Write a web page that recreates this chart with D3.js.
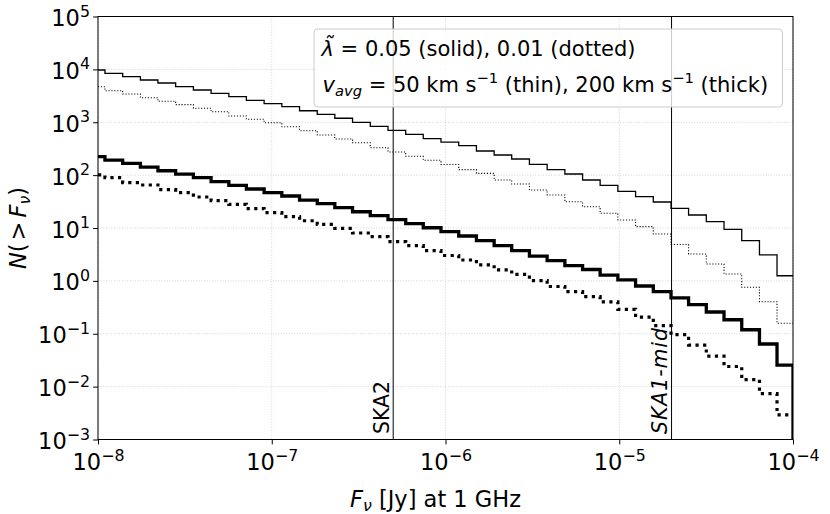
<!DOCTYPE html>
<html>
<head>
<meta charset="utf-8">
<script src="https://cdn.jsdelivr.net/npm/d3@7"></script>
<style>
  body { margin: 0; background: #fff; }
  svg { display: block; font-family: "DejaVu Sans", sans-serif; }
</style>
</head>
<body>
<div id="container"></div>
<script>
// log10 of the flux (Jy) where every step of the counts happens
let stepEdges = [
  -7.960, -7.858, -7.756, -7.655, -7.553, -7.451, -7.349, -7.247, -7.146, -7.044,
  -6.942, -6.840, -6.738, -6.637, -6.535, -6.433, -6.331, -6.229, -6.128, -6.026,
  -5.924, -5.822, -5.720, -5.619, -5.517, -5.415, -5.313, -5.211, -5.110, -5.008,
  -4.906, -4.804, -4.702, -4.601, -4.499, -4.397, -4.295, -4.193, -4.092
];

// N(>F) on each step, 40 levels per curve
// lambda = 0.05, v = 50 km/s
let thinSolid = [
  9730, 8430, 7270, 6300, 5530, 4700, 4070, 3530, 3040, 2600,
  2260, 1970, 1650, 1410, 1190, 998, 838, 704, 592, 489,
  420, 360, 286, 240, 202, 160, 127, 105, 80.9, 64.2,
  49.4, 39.1, 31.0, 23.6, 17.6, 13.2, 9.45, 5.75, 3.09, 1.25
];
// lambda = 0.01, v = 50 km/s
let thinDotted = [
  4700, 3950, 3420, 2910, 2490, 2150, 1835, 1583, 1313, 1137,
  980, 824, 692, 574, 482, 410, 330, 274, 227, 191,
  159, 127, 108, 80.9, 68.0, 52.3, 42.1, 31.4, 25.3, 19.0,
  14.2, 10.6, 7.70, 4.87, 3.22, 2.08, 1.35, 0.756, 0.404, 0.158
];
// lambda = 0.05, v = 200 km/s
let thickSolid = [
  223, 193, 167, 142, 121, 104, 89.4, 75.1, 64.2, 54.7,
  46.5, 40.3, 33.8, 28.8, 24.2, 20.3, 17.1, 14.4, 12.1, 10.1,
  8.51, 7.06, 5.75, 4.63, 3.72, 2.95, 2.41, 1.94, 1.64, 1.29,
  1.04, 0.80, 0.624, 0.478, 0.357, 0.258, 0.184, 0.119, 0.064, 0.0256
];
// lambda = 0.01, v = 200 km/s
let thickDotted = [
  101, 89.4, 71.9, 65.1, 53.0, 46.5, 38.6, 32.8, 28.1, 23.2,
  19.5, 16.4, 13.7, 11.7, 9.87, 8.04, 6.85, 5.51, 4.63, 3.72,
  3.02, 2.48, 2.00, 1.61, 1.33, 1.01, 0.783, 0.624, 0.502, 0.399,
  0.290, 0.207, 0.143, 0.0960, 0.0612, 0.0379, 0.0240, 0.0136, 0.00735, 0.00291
];

let xTickExps = [-8, -7, -6, -5, -4];
let yTickExps = [-3, -2, -1, 0, 1, 2, 3, 4, 5];

// survey sensitivities (Jy)
let surveyNames = ["SKA2", "SKA1-mid"];
let surveyFlux = [5e-7, 2e-5];

let w = 830;
let h = 514;
let pLeft = 98, pRight = 793, pTop = 16.5, pBottom = 439.5;

let x = d3.scaleLog().domain([1e-8, 1e-4]).range([pLeft, pRight]);
let y = d3.scaleLog().domain([1e-3, 1e5]).range([pBottom, pTop]);

let viz = d3.select("#container")
  .append("svg")
    .attr("width", w)
    .attr("height", h)
;

viz.append("clipPath").attr("id", "plotclip")
  .append("rect")
    .attr("x", pLeft).attr("y", pTop)
    .attr("width", pRight - pLeft).attr("height", pBottom - pTop);

// grid
let grid = viz.append("g")
  .attr("stroke", "#c8c8c8")
  .attr("stroke-width", 0.8)
  .attr("stroke-dasharray", "1,1.65");
grid.selectAll(".gx").data(xTickExps).enter().append("line")
  .attr("x1", d => x(Math.pow(10, d))).attr("x2", d => x(Math.pow(10, d)))
  .attr("y1", pTop).attr("y2", pBottom);
grid.selectAll(".gy").data(yTickExps).enter().append("line")
  .attr("y1", d => y(Math.pow(10, d))).attr("y2", d => y(Math.pow(10, d)))
  .attr("x1", pLeft).attr("x2", pRight);

// step curves
function stepPoints(vals, dropToBottom) {
  let pts = [{f: 1e-8, n: vals[0]}];
  stepEdges.forEach(function(e, i) {
    pts.push({f: Math.pow(10, e), n: vals[i + 1]});
  });
  pts.push({f: 1e-4, n: vals[vals.length - 1]});
  if (dropToBottom) pts.push({f: 1e-4, n: 1e-3});
  return pts;
}

let lineMaker = d3.line()
  .x(d => x(d.f))
  .y(d => y(d.n))
  .curve(d3.curveStepAfter);

let curves = [
  {vals: thinSolid, width: 1.3, dash: null, drop: false},
  {vals: thinDotted, width: 1.1, dash: "1.1,1.8", drop: false},
  {vals: thickSolid, width: 3.3, dash: null, drop: true},
  {vals: thickDotted, width: 3.2, dash: "3.2,4.4", drop: false}
];

let plot = viz.append("g").attr("clip-path", "url(#plotclip)");
curves.forEach(function(c) {
  plot.append("path")
    .datum(stepPoints(c.vals, c.drop))
    .attr("d", lineMaker)
    .attr("fill", "none")
    .attr("stroke", "#000")
    .attr("stroke-width", c.width)
    .attr("stroke-dasharray", c.dash);
});

// survey limits
surveyFlux.forEach(function(f, i) {
  viz.append("line")
    .attr("x1", x(f)).attr("x2", x(f))
    .attr("y1", pTop).attr("y2", pBottom)
    .attr("stroke", "#000").attr("stroke-width", 1);
  let lab = viz.append("text")
    .attr("transform", "translate(" + (x(f) - 4.5) + "," + (pBottom - 5.5) + ") rotate(-90)")
    .attr("font-size", 20.5)
    .attr("font-style", i == 1 ? "italic" : "normal")
    .text(surveyNames[i]);
  if (i == 1) lab.attr("textLength", 106).attr("lengthAdjust", "spacing");
});

// legend box
viz.append("rect")
  .attr("x", 314).attr("y", 29)
  .attr("width", 468.5).attr("height", 78)
  .attr("rx", 4)
  .attr("fill", "#fff").attr("fill-opacity", 0.8)
  .attr("stroke", "#ccc").attr("stroke-width", 1);

let l1 = viz.append("text").attr("x", 321.5).attr("y", 55.5).attr("font-size", 21);
l1.append("tspan").attr("font-style", "italic").text("\u03BB\u0303");
l1.append("tspan").text(" = 0.05 (solid), 0.01 (dotted)");

let l2 = viz.append("text").attr("x", 322.5).attr("y", 91.5).attr("font-size", 21);
l2.append("tspan").attr("font-style", "italic").text("v");
l2.append("tspan").attr("font-style", "italic").attr("font-size", 14.7).attr("dy", 4).text("avg");
l2.append("tspan").attr("dy", -4).text(" = 50 km s");
l2.append("tspan").attr("font-size", 14.7).attr("dy", -8.5).text("\u22121");
l2.append("tspan").attr("dy", 8.5).text(" (thin), 200 km s");
l2.append("tspan").attr("font-size", 14.7).attr("dy", -8.5).text("\u22121");
l2.append("tspan").attr("dy", 8.5).text(" (thick)");

// frame
viz.append("rect")
  .attr("x", pLeft).attr("y", pTop)
  .attr("width", pRight - pLeft).attr("height", pBottom - pTop)
  .attr("fill", "none").attr("stroke", "#000").attr("stroke-width", 1);

// minor ticks
let xMinor = [], yMinor = [];
xTickExps.slice(0, -1).forEach(e => d3.range(2, 10).forEach(m => xMinor.push(m * Math.pow(10, e))));
yTickExps.slice(0, -1).forEach(e => d3.range(2, 10).forEach(m => yMinor.push(m * Math.pow(10, e))));

function powerLabel(d) {
  let t = d3.select(this).text(null);
  let e = Math.round(Math.log10(d));
  t.append("tspan").text("10");
  t.append("tspan").attr("dy", -9.5).attr("font-size", 15.8).text(e < 0 ? "\u2212" + (-e) : e);
}

let xAxisG = viz.append("g").attr("transform", "translate(0," + pBottom + ")");
xAxisG.call(d3.axisBottom(x).tickValues(xMinor).tickSize(2.8).tickFormat(""));
xAxisG.call(d3.axisBottom(x).tickValues(xTickExps.map(e => Math.pow(10, e))).tickSize(4.9));
xAxisG.selectAll(".domain").remove();
xAxisG.selectAll(".tick text")
  .attr("y", 30.5).attr("dy", null)
  .attr("font-size", 22.5).attr("font-family", "DejaVu Sans").attr("fill", "#000")
  .each(powerLabel);

let yAxisG = viz.append("g").attr("transform", "translate(" + pLeft + ",0)");
yAxisG.call(d3.axisLeft(y).tickValues(yMinor).tickSize(2.8).tickFormat(""));
yAxisG.call(d3.axisLeft(y).tickValues(yTickExps.map(e => Math.pow(10, e))).tickSize(4.9));
yAxisG.selectAll(".domain").remove();
yAxisG.selectAll(".tick text")
  .attr("x", -8).attr("dy", null).attr("y", 9)
  .attr("font-size", 22.5).attr("font-family", "DejaVu Sans").attr("fill", "#000")
  .each(powerLabel);

// axis titles
let xt = viz.append("text").attr("x", 350).attr("y", 506.5).attr("font-size", 22.5);
xt.append("tspan").attr("font-style", "italic").text("F");
xt.append("tspan").attr("font-style", "italic").attr("font-size", 15.8).attr("dy", 4).text("\u03BD");
xt.append("tspan").attr("dy", -4).text(" [Jy] at 1 GHz");

let yt = viz.append("text")
  .attr("transform", "translate(25.5," + ((pTop + pBottom) / 2) + ") rotate(-90)")
  .attr("text-anchor", "middle")
  .attr("font-size", 22.5);
yt.append("tspan").attr("font-style", "italic").text("N");
yt.append("tspan").text("(");
yt.append("tspan").attr("dx", 3).text(">");
yt.append("tspan").attr("dx", 4).attr("font-style", "italic").text("F");
yt.append("tspan").attr("font-style", "italic").attr("font-size", 15.8).attr("dy", 4).text("\u03BD");
yt.append("tspan").attr("dy", -4).text(")");
</script>
</body>
</html>
